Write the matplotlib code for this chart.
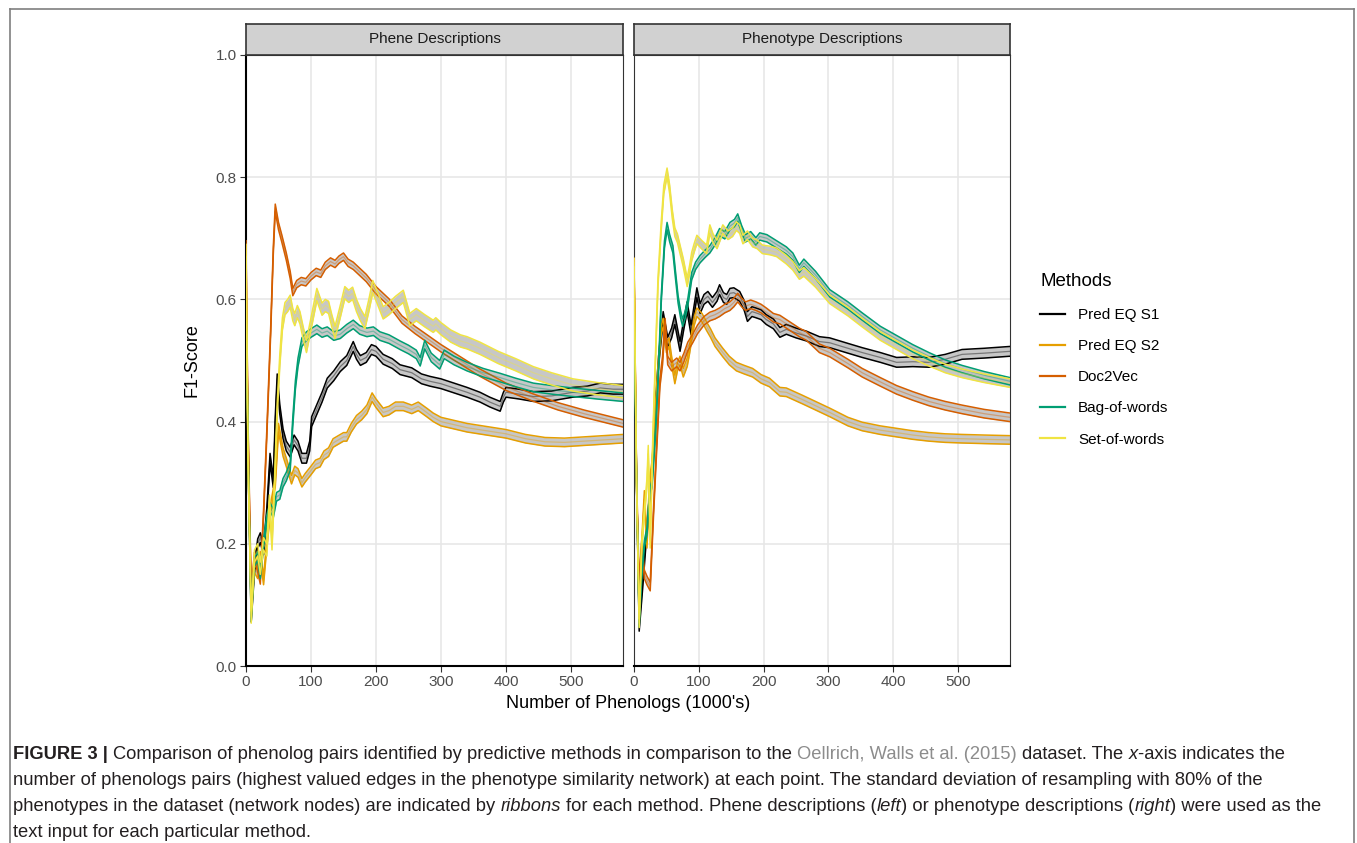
import matplotlib
matplotlib.use("Agg")
import matplotlib.pyplot as plt
import numpy as np
from matplotlib.lines import Line2D

# =========================
# DATA
# =========================

methods = ["Pred EQ S1", "Pred EQ S2", "Doc2Vec", "Bag-of-words", "Set-of-words"]
colors = ["#000000", "#E69F00", "#D55E00", "#009E73", "#F0E442"]
panel_titles = ["Phene Descriptions", "Phenotype Descriptions"]

x_ticks = [0, 100, 200, 300, 400, 500]
y_ticks = [0.0, 0.2, 0.4, 0.6, 0.8, 1.0]

# ---- Phene descriptions (left panel) ----
phene_s1_x = [0, 4, 8, 13, 18, 22, 27, 32, 37, 42, 45, 48, 52, 57, 62, 68, 74, 80, 86, 93, 98, 101,
              109, 117, 125, 135, 145, 155, 165, 170, 176, 185, 193, 200, 211, 225, 237, 255, 270, 283,
              300, 320, 340, 360, 375, 391, 396, 400, 420, 442, 470, 503, 525, 545, 565, 580]
phene_s1_y = [0.62, 0.3, 0.08, 0.16, 0.2, 0.21, 0.19, 0.25, 0.34, 0.3, 0.40, 0.47, 0.42, 0.38, 0.36,
              0.35, 0.37, 0.36, 0.34, 0.34, 0.36, 0.40, 0.42, 0.44, 0.463, 0.475, 0.49, 0.50, 0.523,
              0.51, 0.50, 0.505, 0.518, 0.515, 0.502, 0.495, 0.485, 0.48, 0.47, 0.466, 0.462, 0.455,
              0.448, 0.44, 0.432, 0.425, 0.44, 0.448, 0.445, 0.441, 0.442, 0.448, 0.45, 0.455, 0.453,
              0.453]

phene_s2_x = [0, 4, 8, 13, 18, 22, 27, 32, 38, 45, 50, 57, 63, 70, 75, 80, 86, 91, 100, 107, 114,
              120, 127, 134, 142, 150, 155, 162, 170, 178, 186, 194, 200, 211, 220, 230, 242, 255, 265,
              278, 288, 300, 320, 340, 370, 400, 430, 460, 490, 520, 550, 580]
phene_s2_y = [0.6, 0.3, 0.1, 0.16, 0.15, 0.18, 0.14, 0.2, 0.26, 0.3, 0.39, 0.35, 0.33, 0.305, 0.32,
              0.316, 0.3, 0.308, 0.32, 0.33, 0.333, 0.345, 0.35, 0.365, 0.37, 0.375, 0.375, 0.39,
              0.403, 0.41, 0.42, 0.44, 0.43, 0.415, 0.418, 0.425, 0.425, 0.42, 0.425, 0.415, 0.407,
              0.40, 0.395, 0.39, 0.385, 0.38, 0.372, 0.367, 0.366, 0.368, 0.37, 0.372]

phene_d2v_x = [0, 3, 8, 13, 18, 22, 27, 32, 38, 42, 45, 50, 55, 62, 68, 72, 78, 85, 92, 100, 108, 115,
               122, 130, 137, 143, 150, 157, 165, 175, 185, 200, 220, 240, 260, 280, 300, 330, 360,
               400, 440, 480, 520, 550, 580]
phene_d2v_y = [0.69, 0.4, 0.12, 0.18, 0.16, 0.14, 0.25, 0.38, 0.55, 0.68, 0.75, 0.72, 0.70, 0.67,
               0.64, 0.612, 0.625, 0.63, 0.628, 0.638, 0.645, 0.642, 0.655, 0.662, 0.658, 0.665, 0.670,
               0.66, 0.655, 0.645, 0.635, 0.615, 0.595, 0.567, 0.55, 0.535, 0.52, 0.5, 0.48, 0.457,
               0.44, 0.425, 0.413, 0.405, 0.397]

phene_bow_x = [0, 4, 8, 13, 18, 22, 27, 32, 37, 42, 47, 52, 57, 62, 68, 72, 76, 80, 86, 93, 100, 109,
               117, 125, 135, 145, 155, 165, 175, 186, 196, 206, 220, 237, 250, 262, 268, 275, 285,
               298, 305, 320, 340, 365, 391, 415, 442, 470, 503, 540, 580]
phene_bow_y = [0.6, 0.3, 0.08, 0.17, 0.18, 0.15, 0.2, 0.24, 0.26, 0.25, 0.277, 0.28, 0.30, 0.31,
               0.327, 0.40, 0.46, 0.497, 0.53, 0.54, 0.545, 0.551, 0.545, 0.548, 0.54, 0.543, 0.552,
               0.559, 0.55, 0.546, 0.548, 0.54, 0.535, 0.525, 0.518, 0.51, 0.498, 0.526, 0.505, 0.493,
               0.51, 0.5, 0.49, 0.48, 0.472, 0.464, 0.456, 0.452, 0.448, 0.444, 0.44]

phene_sow_x = [0, 3, 8, 13, 18, 22, 27, 32, 36, 40, 44, 48, 52, 56, 60, 64, 68, 72, 75, 79, 83, 88,
               93, 100, 109, 117, 122, 127, 132, 137, 145, 152, 158, 164, 170, 176, 183, 189, 195, 203,
               211, 220, 230, 242, 252, 262, 275, 288, 292, 300, 315, 330, 340, 360, 388, 415, 442,
               470, 503, 540, 580]
phene_sow_y = [0.68, 0.35, 0.08, 0.18, 0.19, 0.16, 0.2, 0.19, 0.27, 0.2, 0.3, 0.42, 0.5, 0.56, 0.585,
               0.59, 0.597, 0.575, 0.567, 0.58, 0.57, 0.545, 0.523, 0.56, 0.608, 0.584, 0.59, 0.587,
               0.565, 0.546, 0.58, 0.611, 0.605, 0.61, 0.59, 0.575, 0.562, 0.59, 0.621, 0.6, 0.578,
               0.585, 0.595, 0.605, 0.567, 0.575, 0.565, 0.556, 0.56, 0.552, 0.54, 0.532, 0.529, 0.52,
               0.505, 0.493, 0.48, 0.47, 0.46, 0.454, 0.449]

# ---- Phenotype descriptions (right panel) ----
pheno_s1_x = [0, 4, 8, 13, 18, 22, 27, 32, 38, 45, 52, 58, 63, 71, 77, 82, 88, 97, 102, 108, 114,
              121, 128, 132, 138, 143, 148, 154, 163, 170, 175, 182, 188, 196, 204, 215, 225, 235, 250,
              266, 286, 302, 330, 352, 380, 405, 430, 455, 480, 506, 540, 580]
pheno_s1_y = [0.6, 0.3, 0.065, 0.13, 0.2, 0.25, 0.3, 0.408, 0.5, 0.572, 0.53, 0.545, 0.567, 0.523,
              0.56, 0.588, 0.55, 0.611, 0.585, 0.6, 0.605, 0.595, 0.605, 0.616, 0.603, 0.6, 0.61, 0.611,
              0.605, 0.59, 0.572, 0.58, 0.578, 0.575, 0.567, 0.56, 0.546, 0.551, 0.545, 0.54, 0.531,
              0.529, 0.52, 0.513, 0.505, 0.497, 0.498, 0.497, 0.502, 0.51, 0.512, 0.515]

pheno_s2_x = [0, 4, 8, 12, 16, 20, 24, 28, 33, 38, 42, 45, 50, 54, 58, 63, 67, 71, 76, 82, 86, 89, 93,
              97, 105, 112, 118, 125, 137, 147, 158, 170, 183, 196, 209, 225, 235, 260, 286, 302, 330,
              352, 380, 405, 430, 455, 480, 506, 540, 580]
pheno_s2_y = [0.66, 0.3, 0.1, 0.2, 0.28, 0.2, 0.3, 0.33, 0.42, 0.5, 0.55, 0.562, 0.52, 0.53, 0.5,
              0.469, 0.49, 0.5, 0.48, 0.497, 0.52, 0.54, 0.565, 0.579, 0.57, 0.556, 0.545, 0.53, 0.513,
              0.5, 0.49, 0.485, 0.48, 0.47, 0.464, 0.449, 0.448, 0.436, 0.423, 0.415, 0.4, 0.392,
              0.386, 0.382, 0.378, 0.375, 0.373, 0.372, 0.371, 0.37]

pheno_d2v_x = [0, 4, 8, 12, 16, 20, 25, 30, 35, 40, 44, 48, 52, 58, 66, 71, 77, 83, 90, 98, 108, 117,
               125, 132, 140, 148, 154, 160, 166, 172, 180, 188, 196, 204, 215, 225, 235, 255, 266,
               286, 302, 330, 352, 380, 405, 430, 455, 480, 506, 540, 580]
pheno_d2v_y = [0.66, 0.3, 0.13, 0.2, 0.15, 0.14, 0.13, 0.25, 0.36, 0.464, 0.5, 0.562, 0.5, 0.49,
               0.497, 0.49, 0.505, 0.523, 0.535, 0.551, 0.565, 0.572, 0.575, 0.579, 0.585, 0.589, 0.595,
               0.603, 0.595, 0.589, 0.592, 0.589, 0.585, 0.579, 0.57, 0.567, 0.56, 0.546, 0.54, 0.52,
               0.513, 0.495, 0.48, 0.465, 0.452, 0.442, 0.433, 0.426, 0.42, 0.413, 0.407]

pheno_bow_x = [0, 4, 8, 12, 16, 20, 24, 28, 33, 37, 42, 47, 51, 55, 60, 64, 68, 72, 75, 79, 83, 89, 95,
               102, 110, 117, 125, 132, 140, 148, 155, 160, 166, 172, 180, 188, 194, 205, 220, 235,
               245, 255, 262, 280, 302, 330, 352, 380, 405, 430, 455, 480, 506, 540, 580]
pheno_bow_y = [0.6, 0.3, 0.07, 0.15, 0.2, 0.22, 0.28, 0.3, 0.38, 0.464, 0.6, 0.69, 0.72, 0.7, 0.682,
               0.64, 0.6, 0.575, 0.562, 0.575, 0.595, 0.638, 0.655, 0.666, 0.675, 0.682, 0.695, 0.71,
               0.705, 0.72, 0.725, 0.734, 0.715, 0.70, 0.705, 0.695, 0.703, 0.7, 0.69, 0.68, 0.67,
               0.65, 0.66, 0.64, 0.61, 0.59, 0.572, 0.55, 0.535, 0.52, 0.507, 0.495, 0.486, 0.476,
               0.466]

pheno_sow_x = [0, 4, 8, 12, 16, 20, 22, 25, 29, 33, 37, 42, 46, 51, 55, 59, 63, 67, 71, 76, 82, 86,
               89, 93, 97, 104, 112, 117, 122, 128, 137, 145, 152, 158, 163, 168, 175, 183, 190, 198,
               210, 220, 235, 245, 255, 262, 280, 302, 330, 352, 380, 405, 430, 455, 480, 506, 540,
               580]
pheno_sow_y = [0.66, 0.3, 0.07, 0.2, 0.25, 0.3, 0.354, 0.2, 0.37, 0.5, 0.628, 0.72, 0.78, 0.808,
               0.78, 0.74, 0.71, 0.70, 0.682, 0.66, 0.628, 0.65, 0.67, 0.685, 0.698, 0.69, 0.682,
               0.715, 0.70, 0.69, 0.715, 0.705, 0.71, 0.72, 0.715, 0.698, 0.705, 0.693, 0.69, 0.682,
               0.68, 0.677, 0.665, 0.655, 0.64, 0.645, 0.627, 0.6, 0.58, 0.562, 0.54, 0.525, 0.51,
               0.498, 0.487, 0.479, 0.471, 0.463]

# ribbon half-widths (standard deviation) per method
phene_sd = [0.008, 0.007, 0.006, 0.007, 0.010]
pheno_sd = [0.008, 0.007, 0.007, 0.006, 0.007]

phene_series = [(phene_s1_x, phene_s1_y), (phene_s2_x, phene_s2_y), (phene_d2v_x, phene_d2v_y),
                (phene_bow_x, phene_bow_y), (phene_sow_x, phene_sow_y)]
pheno_series = [(pheno_s1_x, pheno_s1_y), (pheno_s2_x, pheno_s2_y), (pheno_d2v_x, pheno_d2v_y),
                (pheno_bow_x, pheno_bow_y), (pheno_sow_x, pheno_sow_y)]

caption_lines = [
    [("FIGURE 3 |", "bold"),
     (" Comparison of phenolog pairs identified by predictive methods in comparison to the", "normal"),
     (" Oellrich, Walls et al. (2015)", "link"),
     (" dataset. The", "normal"), (" x", "italic"), ("-axis indicates the", "normal")],
    [("number of phenologs pairs (highest valued edges in the phenotype similarity network) at "
      "each point. The standard deviation of resampling with 80% of the", "normal")],
    [("phenotypes in the dataset (network nodes) are indicated by", "normal"), (" ribbons", "italic"),
     (" for each method. Phene descriptions (", "normal"), ("left", "italic"),
     (") or phenotype descriptions (", "normal"), ("right", "italic"),
     (") were used as the", "normal")],
    [("text input for each particular method.", "normal")],
]

# =========================
# FIGURE
# =========================

plt.rcParams["font.family"] = ["Liberation Sans", "DejaVu Sans"]

W, H = 1357, 843
fig = plt.figure(figsize=(W / 100, H / 100), dpi=100)


def fx(px):
    return px / W


def fy(py):
    return 1 - py / H


panel_left = [246, 634]
panel_right = [623, 1010]
panel_top, panel_bottom = 55, 666
strip_top = 24

axes = []
for i in range(2):
    ax = fig.add_axes([fx(panel_left[i]), fy(panel_bottom),
                       (panel_right[i] - panel_left[i]) / W, (panel_bottom - panel_top) / H])
    axes.append(ax)

    # strip
    sax = fig.add_axes([fx(panel_left[i]), fy(panel_top),
                        (panel_right[i] - panel_left[i]) / W, (panel_top - strip_top) / H])
    sax.set_facecolor("#D1D1D1")
    sax.set_xticks([])
    sax.set_yticks([])
    for sp in sax.spines.values():
        sp.set_color("#333333")
        sp.set_linewidth(1.2)
    sax.text(0.5, 0.5, panel_titles[i], ha="center", va="center", fontsize=11, color="#1A1A1A",
             transform=sax.transAxes)

# =========================
# RIBBONS
# =========================

for ax, series, sds in zip(axes, [phene_series, pheno_series], [phene_sd, pheno_sd]):
    for (xs, ys), sd, c in zip(series, sds, colors):
        x = np.array(xs, dtype=float)
        y = np.array(ys, dtype=float)
        ax.fill_between(x, y - sd, y + sd, color="#BDBDBD", alpha=0.85, lw=0, zorder=2)
        ax.plot(x, y - sd, color=c, lw=1.1, zorder=3, solid_joinstyle="round")
        ax.plot(x, y + sd, color=c, lw=1.1, zorder=3, solid_joinstyle="round")
        ax.plot(x, y, color=c, lw=0.9, alpha=0.4, zorder=3)

    ax.set_xlim(0, 580)
    ax.set_ylim(0, 1)
    ax.set_xticks(x_ticks)
    ax.set_yticks(y_ticks)
    ax.grid(True, color="#E6E6E6", lw=1.1, zorder=0)
    ax.set_axisbelow(True)
    ax.tick_params(length=4, width=0.8, color="#333333", labelsize=11, labelcolor="#4D4D4D", pad=2.5)
    for sp in ax.spines.values():
        sp.set_color("#333333")
        sp.set_linewidth(0.8)
    ax.spines["bottom"].set_color("black")
    ax.spines["bottom"].set_linewidth(1.5)

axes[0].set_yticklabels([f"{v:.1f}" for v in y_ticks])
axes[0].spines["left"].set_color("black")
axes[0].spines["left"].set_linewidth(1.5)
axes[1].tick_params(axis="y", left=False, labelleft=False)

axes[0].set_ylabel("F1-Score", fontsize=13, color="black")
axes[0].yaxis.set_label_coords((201 - 246) / (623 - 246), 0.5)
fig.text(fx(628), fy(703), "Number of Phenologs (1000's)", ha="center", va="center", fontsize=13)

# =========================
# LEGEND
# =========================

handles = [Line2D([0], [0], color=c, lw=1.6) for c in colors]
leg = fig.legend(handles, methods, title="Methods", loc="upper left", bbox_to_anchor=(fx(1040), fy(273)),
                 frameon=False, fontsize=11, title_fontsize=13.5, alignment="left", borderpad=0,
                 handlelength=1.65, handletextpad=0.85, labelspacing=1.12, borderaxespad=0)
leg._legend_box.sep = 13

# =========================
# OUTER FRAME
# =========================

frame_kw = dict(color="#7F7F7F", lw=1.2, transform=fig.transFigure)
fig.add_artist(Line2D([fx(10), fx(1354)], [fy(9), fy(9)], **frame_kw))
fig.add_artist(Line2D([fx(10), fx(10)], [fy(9), 0], **frame_kw))
fig.add_artist(Line2D([fx(1354), fx(1354)], [fy(9), 0], **frame_kw))

# =========================
# CAPTION
# =========================

renderer = fig.canvas.get_renderer()
styles = {
    "normal": dict(color="#231F20"),
    "bold": dict(color="#231F20", fontweight="bold"),
    "italic": dict(color="#231F20", fontstyle="italic"),
    "link": dict(color="#8C8C8C"),
}


def text_width(s, size, **kw):
    t = fig.text(0, 0, s, fontsize=size, **kw)
    w = t.get_window_extent(renderer).width
    t.remove()
    return w


# fit the caption size to the width of the second line
cap_size = 12.0
line2 = caption_lines[1][0][0]
cap_size *= 1250 / text_width(line2, cap_size)
space_w = text_width("a a", cap_size) - text_width("aa", cap_size)

baselines = [759, 785, 811, 837]
for segs, base in zip(caption_lines, baselines):
    xpos = 13.0
    for s, st in segs:
        lead = len(s) - len(s.lstrip(" "))
        body = s.strip(" ")
        xpos += lead * space_w
        t = fig.text(fx(xpos), fy(base), body, fontsize=cap_size, va="baseline", ha="left", **styles[st])
        xpos += t.get_window_extent(renderer).width

fig.savefig("out.png", dpi=100)
